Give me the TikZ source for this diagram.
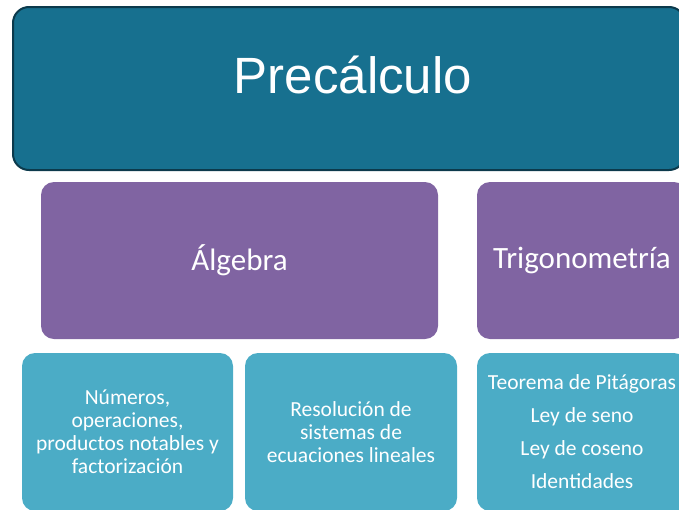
\documentclass[tikz,border=0pt]{standalone}
\usepackage{fontspec}
\setmainfont{Carlito}
\newfontfamily\arialf{Liberation Sans}
\definecolor{topfill}{HTML}{17708F}
\definecolor{topline}{HTML}{0C3A4C}
\definecolor{purplefill}{HTML}{8064A2}
\definecolor{cyanfill}{HTML}{4BACC6}
\tikzset{
  topbox/.style={draw=topline, line width=2pt, fill=topfill, rounded corners=16pt, inner sep=0pt},
  midbox/.style={fill=purplefill, rounded corners=13pt, inner sep=0pt, text=white, font=\fontsize{31}{31}\selectfont},
  lowbox/.style={fill=cyanfill, rounded corners=13pt, inner sep=0pt, text=white, align=center},
  smalltext/.style={font=\fontsize{21.5}{23}\selectfont},
  listtext/.style={font=\fontsize{21.5}{33}\selectfont}
}
\begin{document}
\begin{tikzpicture}[x=1pt,y=-1pt]
\useasboundingbox (0,0) rectangle (679,509);
\clip (0,0) rectangle (679,509);
\node[topbox, minimum width=672pt, minimum height=163pt] (top) at (349,88.5) {};
\node[text=white, font=\arialf\fontsize{51}{51}\selectfont, anchor=base, inner sep=0pt] (title) at (353,93) {Precálculo};
\node[midbox, minimum width=397pt, minimum height=157pt] (alg) at (239.5,260.5) {Álgebra};
\node[midbox, minimum width=210pt, minimum height=157pt] (trig) at (582,260.5) {Trigonometría};
\node[lowbox, smalltext, minimum width=211pt, minimum height=158pt] (n1) at (127.5,432) {Números,\\operaciones,\\productos notables y\\factorización};
\node[lowbox, smalltext, minimum width=212pt, minimum height=158pt] (n2) at (351,432) {Resolución de\\sistemas de\\ecuaciones lineales};
\node[lowbox, listtext, minimum width=210pt, minimum height=158pt] (n3) at (582,432) {Teorema de Pitágoras\\Ley de seno\\Ley de coseno\\Identidades};
\end{tikzpicture}
\end{document}
